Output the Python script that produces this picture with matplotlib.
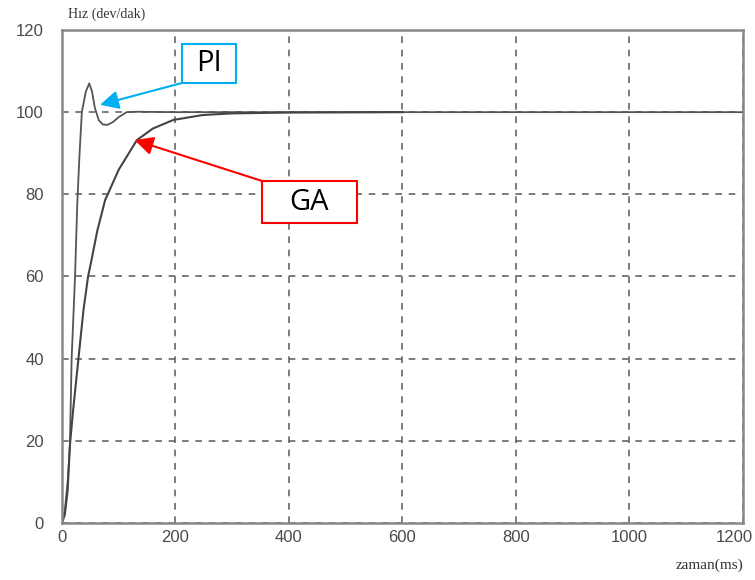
import matplotlib.pyplot as plt
from matplotlib.patches import Rectangle
from matplotlib.transforms import ScaledTranslation

# --- data ---
pi_t = [0, 5, 10, 14, 17, 23, 27, 31, 35, 42, 48, 53, 58, 65, 72, 80, 90, 100, 114, 130, 200, 1200]
pi_v = [0, 3, 10, 19, 40, 60, 78, 90, 100, 105, 107, 105, 101, 98, 97, 96.9, 97.6, 98.8, 100, 100.1, 100, 100]

ga_t = [0, 5, 10, 14, 20, 29, 38, 46, 52, 62, 76, 100, 132, 160, 196, 248, 300, 400, 600]
ga_v = [0, 2, 8, 19, 28, 40, 52, 60, 64, 71, 78.6, 86, 93.2, 96, 98.1, 99.3, 99.7, 99.9, 100]

x_ticks = [0, 200, 400, 600, 800, 1000, 1200]
y_ticks = [0, 20, 40, 60, 80, 100, 120]

fig = plt.figure(figsize=(7.55, 5.8), dpi=100)
ax = fig.add_axes([0.0821, 0.0983, 0.902, 0.85])

ax.plot(pi_t, pi_v, color='#555555', lw=1.3)
ax.plot(ga_t, ga_v, color='#444444', lw=1.5)

ax.set_xlim(0, 1200)
ax.set_ylim(0, 120)
ax.set_xticks(x_ticks)
ax.set_yticks(y_ticks)
ax.tick_params(length=0, labelsize=12, labelcolor='#4a4a4a')
ax.tick_params(axis='x', pad=5)
ax.tick_params(axis='y', pad=13)
for lab in ax.get_xticklabels() + ax.get_yticklabels():
    lab.set_family('Liberation Sans')
# last x label sits against the right edge
last = ax.get_xticklabels()[-1]
last.set_transform(last.get_transform() + ScaledTranslation(-6 / 72, 0, fig.dpi_scale_trans))
ax.grid(True, linestyle=(0, (4, 4)), color='#666666', lw=1.2)
for sp in ax.spines.values():
    sp.set_color('#888888')
    sp.set_linewidth(1.8)

fig.text(0.09, 0.975, 'Hız (dev/dak)', family='Liberation Serif', fontsize=10,
         color='#333333', va='center')
fig.text(0.985, 0.025, 'zaman(ms)', family='Liberation Serif', fontsize=11,
         color='#333333', ha='right', va='center')

# --- annotations: boxes with arrows from a corner ---
ax.add_patch(Rectangle((211.5, 107.1), 95.1, 9.5, fc='white', ec='#00B0F0', lw=1.5, zorder=5))
ax.text(259, 111.9, 'PI', fontsize=21, family='Open Sans', ha='center', va='center', zorder=6)
ax.annotate('', xy=(67, 101.8), xytext=(211.5, 107.1),
            arrowprops=dict(arrowstyle='-|>', color='#00B0F0', lw=1.5, mutation_scale=28,
                            shrinkA=0, shrinkB=0), zorder=6)

ax.add_patch(Rectangle((352.4, 73.0), 167.4, 10.25, fc='white', ec='#FF0000', lw=1.5, zorder=5))
ax.text(436, 78.1, 'GA', fontsize=21, family='Open Sans', ha='center', va='center', zorder=6)
ax.annotate('', xy=(128, 93.2), xytext=(352.4, 83.25),
            arrowprops=dict(arrowstyle='-|>', color='#FF0000', lw=1.5, mutation_scale=28,
                            shrinkA=0, shrinkB=0), zorder=6)

fig.savefig('out.png', dpi=100)
